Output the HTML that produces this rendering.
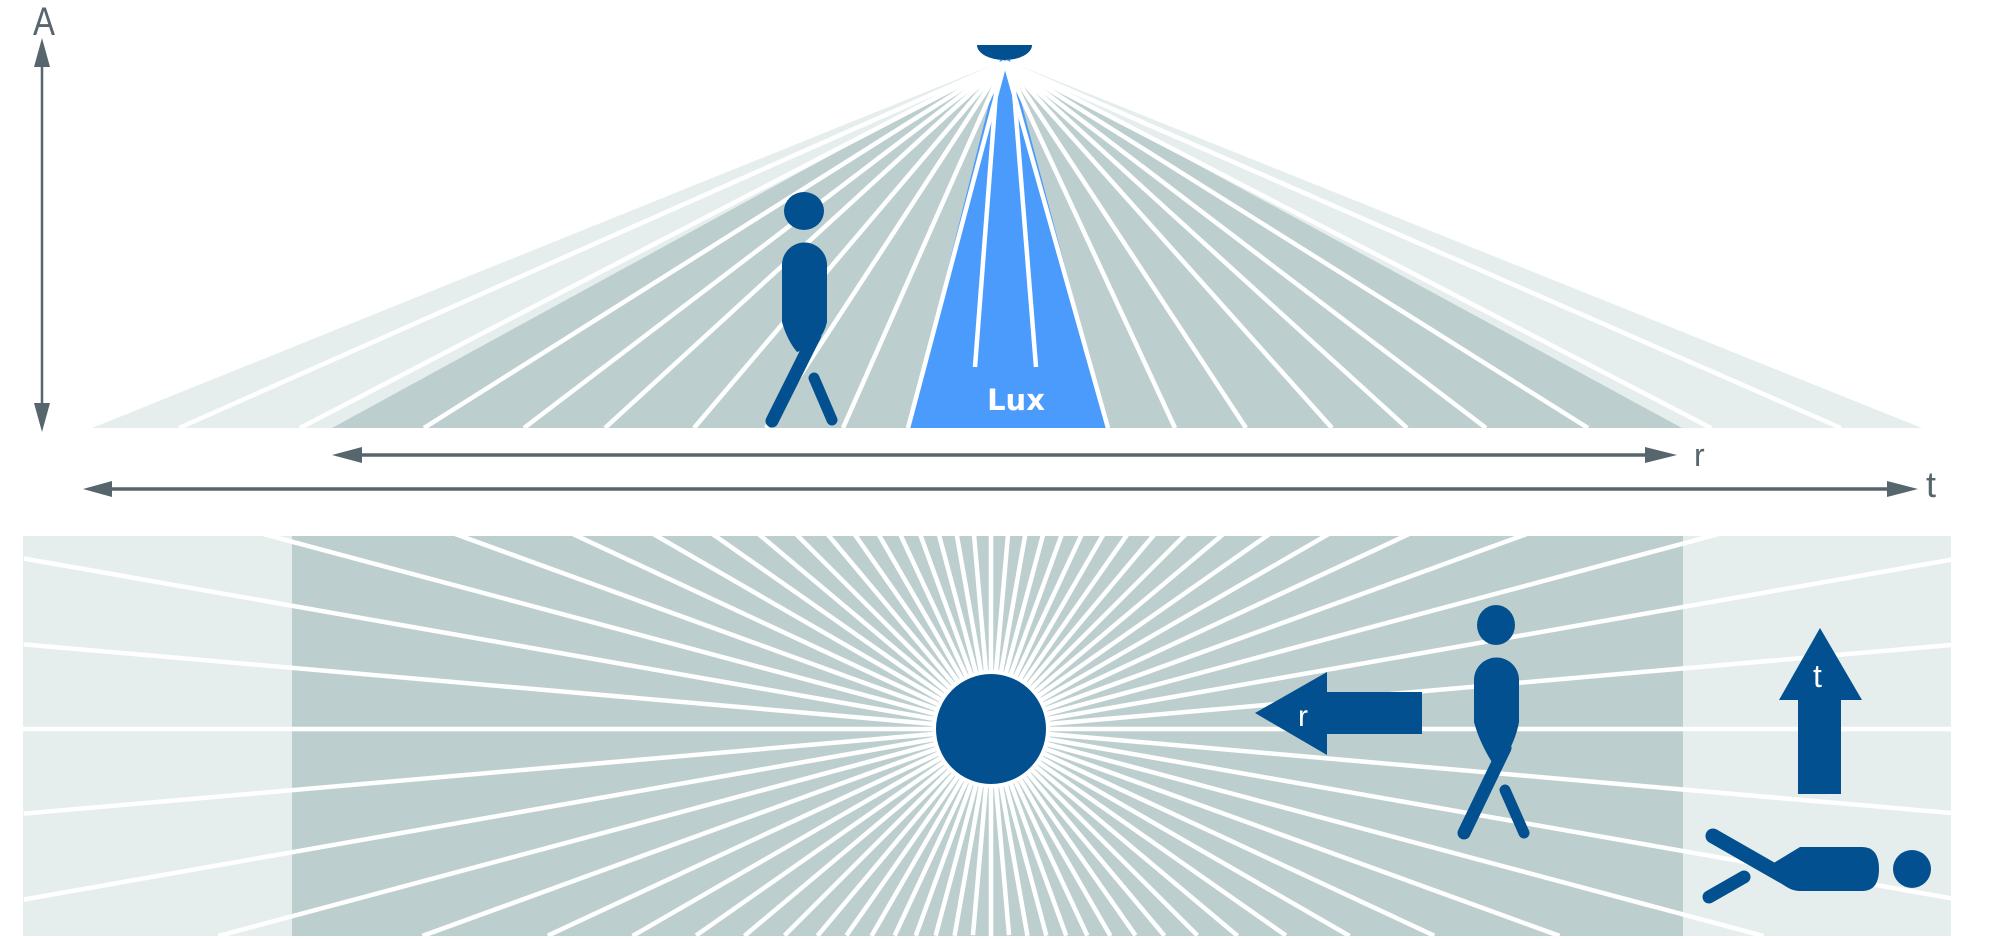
<!DOCTYPE html>
<html><head><meta charset="utf-8"><style>
html,body{margin:0;padding:0;background:#fff;width:2000px;height:939px;overflow:hidden;}
svg{display:block;}
</style></head><body>
<svg width="2000" height="939" viewBox="0 0 2000 939" xmlns="http://www.w3.org/2000/svg">
<defs>
<clipPath id="pc"><rect x="23" y="536" width="1928" height="400"/></clipPath>
</defs>
<polygon points="1005,60 92,428 1922,428" fill="#e6eeed"/>
<polygon points="1005,60 332,428 1682,428" fill="#bccfce"/>
<polygon points="1000,60 1010,60 1108,428 908,428" fill="#4a9bfb"/>
<g stroke="#fff" stroke-width="4.5">
<line x1="1005" y1="62" x2="179" y2="428"/>
<line x1="1005" y1="62" x2="300" y2="428"/>
<line x1="1005" y1="62" x2="424" y2="428"/>
<line x1="1005" y1="62" x2="524" y2="428"/>
<line x1="1005" y1="62" x2="605" y2="428"/>
<line x1="1005" y1="62" x2="694" y2="428"/>
<line x1="1005" y1="62" x2="766" y2="428"/>
<line x1="1005" y1="62" x2="843" y2="428"/>
<line x1="1005" y1="62" x2="908" y2="428"/>
<line x1="1005" y1="62" x2="1108" y2="428"/>
<line x1="1005" y1="62" x2="1175" y2="428"/>
<line x1="1005" y1="62" x2="1246" y2="428"/>
<line x1="1005" y1="62" x2="1332" y2="428"/>
<line x1="1005" y1="62" x2="1407" y2="428"/>
<line x1="1005" y1="62" x2="1486" y2="428"/>
<line x1="1005" y1="62" x2="1588" y2="428"/>
<line x1="1005" y1="62" x2="1711" y2="428"/>
<line x1="1005" y1="62" x2="1841" y2="428"/>
<line x1="998" y1="66" x2="975" y2="367"/>
<line x1="1012" y1="66" x2="1036" y2="367"/>
</g>
<path d="M977,45 L1032,45 A27.5,15 0 0 1 977,45 Z" fill="#02508f"/>
<text x="1016" y="410" font-family="DejaVu Sans, Liberation Sans, sans-serif" font-weight="bold" font-size="29" fill="#fff" text-anchor="middle">Lux</text>
<g fill="#02508f" stroke="#02508f">
<ellipse cx="804" cy="211" rx="20" ry="19" stroke="none"/>
<path d="M782,265 A22,22 0 0 1 827,265 L827,322 Q822,345 797,352 Q787,340 782,322 Z" stroke="none"/>
<line x1="815" y1="335" x2="772" y2="421" stroke-width="13" stroke-linecap="round"/>
<line x1="814" y1="378" x2="832" y2="420" stroke-width="11" stroke-linecap="round"/>
</g>
<g fill="#56666c" stroke="#56666c">
<line x1="42" y1="60" x2="42" y2="410" stroke-width="2.5"/>
<polygon points="42,38 34,67 50,67" stroke="none"/>
<polygon points="42,432 34,403 50,403" stroke="none"/>
<line x1="355" y1="455" x2="1650" y2="455" stroke-width="3.5"/>
<polygon points="332,455 362,447 362,463" stroke="none"/>
<polygon points="1677,455 1645,447 1645,463" stroke="none"/>
<line x1="105" y1="489" x2="1895" y2="489" stroke-width="3.5"/>
<polygon points="83,489 112,481 112,497" stroke="none"/>
<polygon points="1918,489 1887,481 1887,497" stroke="none"/>
</g>
<g font-family="Liberation Sans, sans-serif" fill="#56666c" font-size="40">
<text x="33" y="35" textLength="22" lengthAdjust="spacingAndGlyphs">A</text>
<text x="1694" y="466" font-size="32">r</text>
<text x="1926" y="497" font-size="36">t</text>
</g>
<rect x="23" y="536" width="1928" height="400" fill="#e6eeed"/>
<rect x="292" y="536" width="1391" height="400" fill="#bccfce"/>
<g clip-path="url(#pc)">
<g transform="translate(991 729)" stroke="#fff" stroke-width="4.5">
<line x1="-968" y1="0" x2="968" y2="0"/>
<line x1="-971" y1="0" x2="971" y2="0" transform="rotate(5)"/>
<line x1="-982" y1="0" x2="982" y2="0" transform="rotate(10)"/>
<line x1="-800" y1="0" x2="800" y2="0" transform="rotate(15)"/>
<line x1="-605" y1="0" x2="605" y2="0" transform="rotate(20)"/>
<line x1="-489" y1="0" x2="489" y2="0" transform="rotate(25)"/>
<line x1="-414" y1="0" x2="414" y2="0" transform="rotate(30)"/>
<line x1="-360" y1="0" x2="360" y2="0" transform="rotate(35)"/>
<line x1="-322" y1="0" x2="322" y2="0" transform="rotate(40)"/>
<line x1="-292" y1="0" x2="292" y2="0" transform="rotate(45)"/>
<line x1="-270" y1="0" x2="270" y2="0" transform="rotate(50)"/>
<line x1="-252" y1="0" x2="252" y2="0" transform="rotate(55)"/>
<line x1="-239" y1="0" x2="239" y2="0" transform="rotate(60)"/>
<line x1="-228" y1="0" x2="228" y2="0" transform="rotate(65)"/>
<line x1="-220" y1="0" x2="220" y2="0" transform="rotate(70)"/>
<line x1="-214" y1="0" x2="214" y2="0" transform="rotate(75)"/>
<line x1="-210" y1="0" x2="210" y2="0" transform="rotate(80)"/>
<line x1="-207" y1="0" x2="207" y2="0" transform="rotate(85)"/>
<line x1="-207" y1="0" x2="207" y2="0" transform="rotate(90)"/>
<line x1="-207" y1="0" x2="207" y2="0" transform="rotate(95)"/>
<line x1="-210" y1="0" x2="210" y2="0" transform="rotate(100)"/>
<line x1="-214" y1="0" x2="214" y2="0" transform="rotate(105)"/>
<line x1="-220" y1="0" x2="220" y2="0" transform="rotate(110)"/>
<line x1="-228" y1="0" x2="228" y2="0" transform="rotate(115)"/>
<line x1="-239" y1="0" x2="239" y2="0" transform="rotate(120)"/>
<line x1="-252" y1="0" x2="252" y2="0" transform="rotate(125)"/>
<line x1="-270" y1="0" x2="270" y2="0" transform="rotate(130)"/>
<line x1="-292" y1="0" x2="292" y2="0" transform="rotate(135)"/>
<line x1="-322" y1="0" x2="322" y2="0" transform="rotate(140)"/>
<line x1="-360" y1="0" x2="360" y2="0" transform="rotate(145)"/>
<line x1="-414" y1="0" x2="414" y2="0" transform="rotate(150)"/>
<line x1="-489" y1="0" x2="489" y2="0" transform="rotate(155)"/>
<line x1="-605" y1="0" x2="605" y2="0" transform="rotate(160)"/>
<line x1="-800" y1="0" x2="800" y2="0" transform="rotate(165)"/>
<line x1="-982" y1="0" x2="982" y2="0" transform="rotate(170)"/>
<line x1="-971" y1="0" x2="971" y2="0" transform="rotate(175)"/>
</g>
</g>
<circle cx="991" cy="729" r="57" fill="#02508f" stroke="#fff" stroke-width="4"/>
<g fill="#02508f" stroke="#02508f">
<polygon points="1255,713 1327,672 1327,692 1422,692 1422,734 1327,734 1327,755" stroke="none"/>
<ellipse cx="1496" cy="625" rx="19" ry="20" stroke="none"/>
<path d="M1474,680 A22.5,22.5 0 0 1 1519,680 L1519,722 Q1515,745 1497,770 Q1480,745 1474,722 Z" stroke="none"/>
<line x1="1505" y1="748" x2="1464" y2="833" stroke-width="13" stroke-linecap="round"/>
<line x1="1505" y1="790" x2="1524" y2="833" stroke-width="11" stroke-linecap="round"/>
<polygon points="1820,628 1862,700 1841,700 1841,794 1798,794 1798,700 1779,700" stroke="none"/>
<ellipse cx="1912" cy="869" rx="19" ry="19" stroke="none"/>
<path d="M1772,864 L1800,847 L1862,847 Q1879,847 1879,869 Q1879,891 1862,891 L1800,891 Q1790,891 1780,882 Z" stroke="none"/>
<line x1="1713" y1="836" x2="1790" y2="880" stroke-width="15" stroke-linecap="round"/>
<line x1="1744" y1="877" x2="1709" y2="897" stroke-width="13" stroke-linecap="round"/>
</g>
<g font-family="Liberation Sans, sans-serif" fill="#fff">
<text x="1298" y="726" font-size="30">r</text>
<text x="1813" y="687" font-size="32">t</text>
</g>
</svg>
</body></html>
